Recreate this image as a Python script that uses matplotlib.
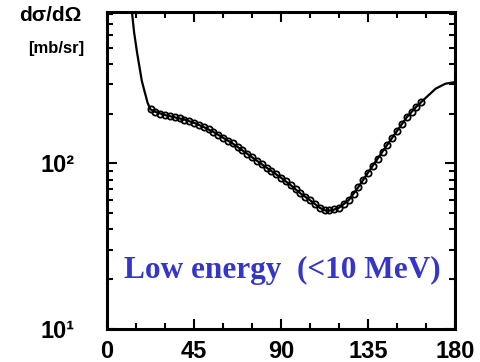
import numpy as np
import matplotlib
matplotlib.use("Agg")
import matplotlib.pyplot as plt
from matplotlib.ticker import LogLocator, MultipleLocator, NullFormatter

# calculated curve (angle in degrees, cross section in mb/sr)
curve_angle = [12, 13, 14, 15.5, 17, 18, 19.5, 21, 22.5, 25, 30, 35, 40, 45, 50,
               55, 60, 65, 70, 75, 80, 85, 90, 95, 100, 105, 110, 113, 116, 120,
               125, 130, 135, 140, 145, 150, 155, 160, 165, 170, 175, 180]
curve_xs = [1000, 800, 620, 470, 370, 315, 270, 232, 212, 205, 196, 190, 184, 176, 166,
            155, 143, 132, 120, 109, 99, 90, 82, 74, 66, 60, 54, 52, 52, 54,
            60, 72, 88, 107, 130, 157, 190, 220, 250, 283, 303, 310]

# measured points
data_angle = [22.5, 25, 27.5, 30, 32.5, 35, 37.5, 40, 42.5, 45, 47.5, 50, 52.5, 55,
              57.5, 60, 62.5, 65, 67.5, 70, 72.5, 75, 77.5, 80, 82.5, 85, 87.5, 90,
              92.5, 95, 97.5, 100, 102.5, 105, 107.5, 110, 112.5, 115, 117.5, 120,
              122.5, 125, 127.5, 130, 132.5, 135, 137.5, 140, 142.5, 145, 147.5, 150,
              152.5, 155, 157.5, 160, 162.5]
data_xs = [212, 205, 200, 196, 193, 190, 187, 184, 180, 176, 171, 166, 161, 155,
           149, 143, 137, 132, 126, 120, 114, 109, 104, 99, 94, 90, 86, 82,
           78, 74, 70, 66, 63, 60, 57, 54, 52, 52, 53, 54,
           57, 60, 65, 72, 80, 88, 97, 107, 118, 130, 143, 157,
           173, 190, 205, 220, 235]

x_ticks = [0, 45, 90, 135, 180]
y_ticks = [10, 100]
y_labels = ["10\u00b9", "10\u00b2"]

fig = plt.figure(figsize=(4.81, 3.62), dpi=100, facecolor="white")
ax = fig.add_axes([0.2225, 0.091, 0.7235, 0.876])

ax.plot(curve_angle, curve_xs, color="black", lw=1.6, zorder=2)
ax.plot(data_angle, data_xs, "o", ms=4.5, mfc="none", mec="black", mew=1.3, zorder=3)

ax.set_yscale("log")
ax.set_xlim(0, 180)
ax.set_ylim(10, 822)

ax.set_xticks(x_ticks)
ax.xaxis.set_minor_locator(MultipleLocator(15))
ax.set_yticks(y_ticks)
ax.set_yticklabels(y_labels)
ax.yaxis.set_minor_locator(LogLocator(base=10, subs=np.arange(2, 10)))
ax.yaxis.set_minor_formatter(NullFormatter())

for s in ax.spines.values():
    s.set_linewidth(2.2)

ax.tick_params(which="both", direction="in", top=True, right=True, width=1.5)
ax.tick_params(which="major", length=7)
ax.tick_params(which="minor", length=4)
ax.tick_params(axis="x", which="major", pad=8)
ax.tick_params(axis="y", which="major", pad=23)

for lab in ax.get_xticklabels() + ax.get_yticklabels():
    lab.set_fontfamily("Liberation Sans")
    lab.set_fontweight("bold")
    lab.set_fontsize(17)

fig.text(0.104, 0.958, "d\u03c3/d\u03a9", fontsize=15, fontweight="bold",
         family="Liberation Sans", ha="center", va="center")
fig.text(0.117, 0.867, "[mb/sr]", fontsize=12, fontweight="bold",
         family="Liberation Sans", ha="center", va="center")

ax.text(0.505, 0.186, "Low energy  (<10 MeV)", transform=ax.transAxes,
        fontsize=22.5, fontweight="bold", family="Liberation Serif",
        color="#3535c8", ha="center", va="center")

fig.savefig("out.png", dpi=100, facecolor="white")
